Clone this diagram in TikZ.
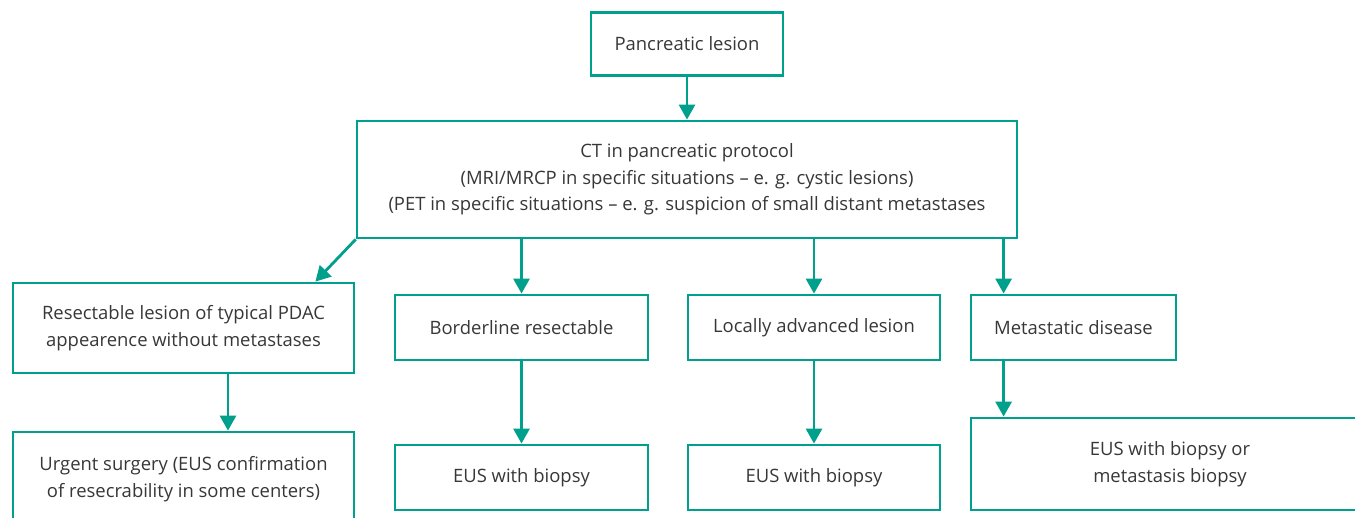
\documentclass[tikz,border=0pt]{standalone}
\usepackage{fontspec}
\setmainfont{Open Sans}
\usetikzlibrary{arrows.meta}

\definecolor{flowteal}{RGB}{0,160,140}
\definecolor{flowtext}{RGB}{55,55,55}

\tikzset{
  box/.style={draw=flowteal, line width=1.6pt, align=center, text=flowtext,
    inner sep=0pt, font=\fontsize{10.5}{15.2}\selectfont},
  arr/.style={draw=flowteal, line width=1.6pt,
    -{Triangle[length=0.3cm, width=0.32cm]}},
}

\begin{document}
\begin{tikzpicture}[x=0.02cm, y=-0.02cm]
      \clip (0,0) rectangle (1355,517);

      \node[box, minimum width=3.84cm, minimum height=1.26cm] (lesion) at (687,44) {Pancreatic lesion};
      \node[box, minimum width=13.2cm, minimum height=2.34cm] (ct) at (687,179.5)
        {CT in pancreatic protocol\\(MRI/MRCP in specific situations -- e. g. cystic lesions)\\(PET in specific situations -- e. g. suspicion of small distant metastases};

      \node[box, minimum width=6.82cm, minimum height=1.8cm] (resect) at (183.5,328)
        {Resectable lesion of typical PDAC\\appearence without metastases};
      \node[box, minimum width=5.06cm, minimum height=1.3cm] (border) at (521.5,327.5) {Borderline resectable};
      \node[box, minimum width=5.04cm, minimum height=1.3cm] (local) at (814,327.5) {Locally advanced lesion};
      \node[box, minimum width=4.1cm, minimum height=1.3cm] (meta) at (1073.5,327.5) {Metastatic disease};

      \node[box, minimum width=6.82cm, minimum height=1.88cm] (urgent) at (183.5,479)
        {Urgent surgery (EUS confirmation\\of resecrability in some centers)};
      \node[box, minimum width=5.06cm, minimum height=1.3cm] (eusb) at (521.5,477.5) {EUS with biopsy};
      \node[box, minimum width=5.04cm, minimum height=1.3cm] (eusl) at (814,477.5) {EUS with biopsy};
      \node[box, minimum width=7.96cm, minimum height=1.84cm] (eusm) at (1170,464)
        {EUS with biopsy or\\metastasis biopsy};

      % arrow ends that are off the box centres
      \coordinate (metain) at ([xshift=0.68cm]meta.north west);
      \coordinate (metaout) at ([xshift=0.68cm]meta.south west);
      \coordinate (resout) at ([xshift=0.89cm]resect.south);
      \coordinate (resin) at ([xshift=-0.8cm]resect.north east);

      \draw[arr] (lesion) -- (ct);
      \draw[arr] (ct.south west) -- (resin);
      \draw[arr] (ct.south -| border.north) -- (border.north);
      \draw[arr] (ct.south -| local.north) -- (local.north);
      \draw[arr] (ct.south -| metain) -- (metain);

      \draw[arr] (resout) -- (resout |- urgent.north);
      \draw[arr] (border) -- (eusb);
      \draw[arr] (local) -- (eusl);
      \draw[arr] (metaout) -- (metaout |- eusm.north);
\end{tikzpicture}
\end{document}
